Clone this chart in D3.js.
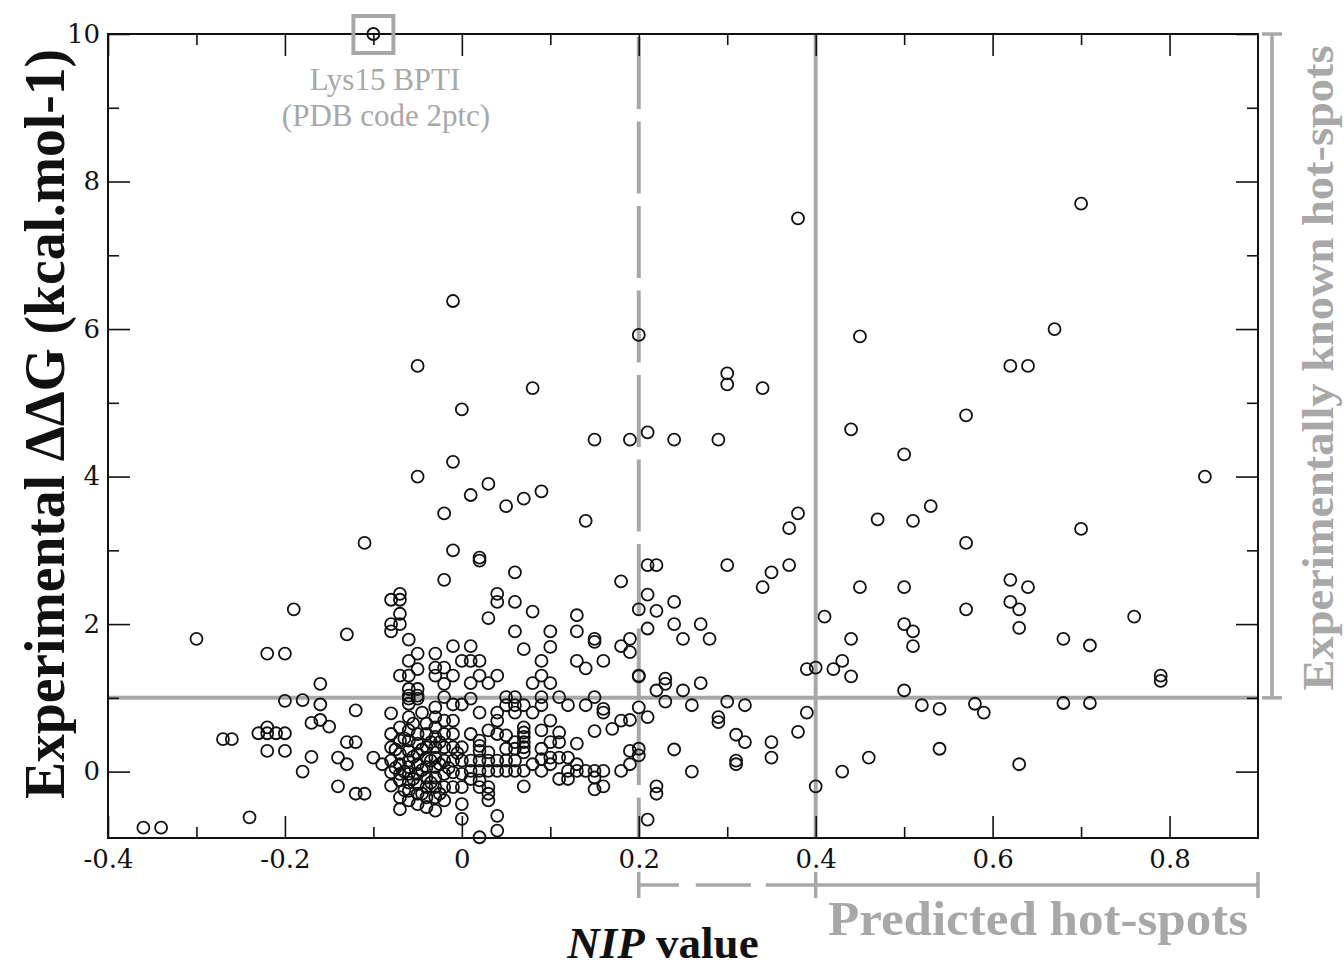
<!DOCTYPE html>
<html><head><meta charset="utf-8">
<script src="https://cdn.jsdelivr.net/npm/d3@7"></script>
<style>body{margin:0;background:#fff;} svg{display:block}</style>
</head><body>
<svg id="chart" width="1344" height="968"></svg>
<script>
// ---------- axis ticks ----------
const xTickValues = [-0.4, -0.2, 0, 0.2, 0.4, 0.6, 0.8];
const xTickLabels = ["-0.4", "-0.2", "0", "0.2", "0.4", "0.6", "0.8"];
const xMinorTicks = [-0.3, -0.1, 0.1, 0.3, 0.5, 0.7];
const yTickValues = [0, 2, 4, 6, 8, 10];
const yTickLabels = ["0", "2", "4", "6", "8", "10"];
const yMinorTicks = [1, 3, 5, 7, 9];

// ---------- thresholds ----------
const ddgHotspot = 1;        // horizontal line
const nipDashed = 0.2;       // dashed vertical
const nipSolid = 0.4;        // solid vertical

// ---------- data: [NIP value, experimental ddG] ----------
const highlighted = [[-0.10, 10.0]];

const leftPoints = [
  [-0.19,2.2],[-0.30,1.8],[-0.22,1.6],[-0.20,1.6],[-0.20,0.96],[-0.18,0.97],
  [-0.22,0.6],[-0.23,0.52],[-0.22,0.52],[-0.21,0.52],[-0.20,0.52],[-0.27,0.44],
  [-0.26,0.44],[-0.22,0.28],[-0.20,0.28],[-0.18,0.0],[-0.24,-0.62],[-0.36,-0.76],
  [-0.34,-0.76],[-0.13,1.86],[-0.16,1.19],[-0.16,0.91],[-0.12,0.83],[-0.16,0.70],
  [-0.17,0.66],[-0.15,0.61],[-0.13,0.40],[-0.12,0.40],[-0.17,0.2],[-0.14,0.19],
  [-0.13,0.10],[-0.10,0.19],[-0.09,0.10],[-0.14,-0.2],[-0.12,-0.30],[-0.11,-0.30],
  [-0.11,3.1]
];

const upperCluster = [
  [-0.02,2.6],[-0.08,2.33],[-0.07,2.41],[-0.07,2.33],[-0.07,2.14],[-0.08,2.0],
  [-0.07,2.0],[-0.08,1.9],[-0.06,1.79],[-0.05,1.6],[-0.03,1.6],[-0.01,1.7],
  [-0.06,1.5],[-0.05,1.39],[-0.03,1.41],[-0.02,1.41],[0.0,1.5],[0.01,1.5],
  [-0.07,1.3],[-0.06,1.3],[-0.03,1.3],[-0.01,1.3],[-0.02,1.19],[-0.06,1.12],
  [-0.05,1.12],[-0.06,1.03],[-0.05,1.03],[-0.06,0.99],[-0.05,0.99],[-0.02,1.01],
  [-0.01,0.91],[0.0,0.91],
  [-0.01,6.38],[-0.05,5.5],[0.08,5.2],[0.0,4.91],[0.15,4.5],[0.19,4.5],[0.21,4.6],
  [-0.01,4.2],[-0.05,4.0],[0.03,3.9],[0.01,3.75],[-0.02,3.5],[0.09,3.8],[0.07,3.7],
  [0.05,3.6],[0.14,3.4],[-0.01,3.0],[0.02,2.9],[0.20,5.92]
];

const denseCluster = [
  [-0.08,0.79],[-0.08,0.51],[-0.08,0.33],[-0.08,0.15],[-0.08,-0.01],[-0.08,-0.19],
  [-0.07,0.6],[-0.07,0.42],[-0.07,0.24],[-0.07,0.10],[-0.07,-0.03],[-0.07,-0.12],[-0.07,-0.35],[-0.07,-0.51],
  [-0.06,0.92],[-0.06,0.74],[-0.06,0.56],[-0.06,0.42],[-0.06,0.28],[-0.06,0.15],[-0.06,0.06],
  [-0.06,-0.03],[-0.06,-0.15],[-0.06,-0.26],[-0.06,-0.39],
  [-0.05,0.51],[-0.05,0.38],[-0.05,0.24],[-0.05,0.10],[-0.05,-0.03],[-0.05,-0.17],[-0.05,-0.30],[-0.05,-0.44],
  [-0.04,0.65],[-0.04,0.51],[-0.04,0.33],[-0.04,0.19],[-0.04,0.06],[-0.04,-0.08],[-0.04,-0.21],[-0.04,-0.35],[-0.04,-0.48],
  [-0.03,0.87],[-0.03,0.74],[-0.03,0.6],[-0.03,0.47],[-0.03,0.33],[-0.03,0.19],[-0.03,0.06],
  [-0.03,-0.08],[-0.03,-0.21],[-0.03,-0.35],[-0.03,-0.53],
  [-0.02,0.69],[-0.02,0.51],[-0.02,0.33],[-0.02,0.15],[-0.02,-0.03],[-0.02,-0.21],[-0.02,-0.39],
  [-0.01,0.69],[-0.01,0.51],[-0.01,0.33],[-0.01,0.15],[-0.01,-0.01],[-0.01,-0.21],
  [0.0,0.33],[0.0,0.15],[0.0,-0.03],[0.0,-0.21],[0.0,-0.44],[0.0,-0.64],
  [-0.065,0.0],[-0.055,0.2],[-0.045,0.02],[-0.035,0.4],[-0.025,0.1],[-0.075,0.3],
  [-0.055,0.65],[-0.045,0.8],[-0.035,-0.15],[-0.065,-0.25],
  [-0.075,0.05],[-0.065,0.45],[-0.055,-0.1],[-0.045,0.3],[-0.035,0.15],[-0.025,0.4],
  [-0.015,0.05],[-0.005,0.25],[-0.045,-0.3],[-0.025,-0.3]
];

const midCluster = [
  [0.02,2.86],[0.06,2.7],[0.18,2.58],[0.04,2.41],[0.04,2.3],[0.06,2.3],[0.08,2.17],
  [0.03,2.08],[0.13,2.12],[0.06,1.9],[0.10,1.9],[0.13,1.9],[0.15,1.8],[0.15,1.76],
  [0.18,1.7],[0.19,1.8],[0.19,1.62],[0.01,1.7],[0.07,1.66],[0.10,1.69],[0.02,1.5],
  [0.09,1.5],[0.13,1.5],[0.14,1.4],[0.16,1.5],[0.01,1.2],[0.02,1.3],[0.03,1.2],
  [0.04,1.3],[0.08,1.2],[0.09,1.3],[0.10,1.2],[0.20,1.3],[0.01,0.99],[0.02,0.8],
  [0.04,0.8],[0.05,1.01],[0.05,0.9],[0.06,1.01],[0.06,0.9],[0.06,0.8],[0.07,0.9],
  [0.04,0.69],[0.08,0.8],[0.09,1.01],[0.09,0.9],[0.10,0.69],[0.11,1.01],[0.12,0.9],
  [0.14,0.9],[0.15,1.01],[0.16,0.85],[0.16,0.8],[0.17,0.58],[0.18,0.69],[0.19,0.7],
  [0.15,0.55],[0.01,0.51],[0.03,0.56],[0.04,0.51],[0.02,0.42],[0.02,0.35],[0.02,0.28],
  [0.03,0.26],[0.05,0.49],[0.06,0.40],[0.06,0.31],[0.07,0.6],[0.07,0.53],[0.07,0.47],
  [0.07,0.4],[0.07,0.33],[0.07,0.26],[0.05,0.31],[0.09,0.56],[0.10,0.4],[0.11,0.53],
  [0.11,0.4],[0.13,0.38],[0.09,0.31],[0.09,0.17],[0.10,0.19],[0.11,0.19],[0.12,0.19],
  [0.08,0.10],[0.09,0.01],[0.10,0.10],[0.12,0.01],[0.13,0.10],[0.13,0.01],[0.14,0.01],
  [0.11,-0.1],[0.12,-0.1],[0.15,0.01],[0.16,0.01],[0.15,-0.08],[0.15,-0.24],[0.16,-0.2],
  [0.18,0.01],[0.19,0.1],[0.19,0.28],
  [0.01,0.01],[0.02,0.01],[0.03,0.01],[0.04,0.01],[0.05,0.01],[0.06,0.01],[0.07,0.01],
  [0.01,-0.1],[0.02,-0.12],[0.02,-0.21],[0.03,-0.21],[0.03,-0.3],[0.03,-0.39],
  [0.07,-0.2],[0.04,-0.6],[0.04,-0.8],[0.02,-0.89],
  [0.01,0.15],[0.02,0.15],[0.03,0.15],[0.04,0.15],[0.05,0.15],[0.06,0.15]
];

const rightPoints = [
  [0.21,2.8],[0.22,2.8],[0.30,2.8],[0.35,2.7],[0.37,2.8],[0.34,2.5],[0.21,2.4],
  [0.24,2.3],[0.20,2.2],[0.22,2.18],[0.21,1.94],[0.24,2.0],[0.27,2.0],[0.25,1.8],
  [0.28,1.8],[0.20,1.29],[0.23,1.26],[0.23,1.19],[0.22,1.1],[0.25,1.1],[0.27,1.2],
  [0.23,0.95],[0.26,0.9],[0.30,0.95],[0.32,0.9],[0.20,0.87],[0.21,0.74],[0.29,0.74],
  [0.29,0.67],[0.31,0.5],[0.32,0.4],[0.35,0.4],[0.35,0.19],[0.38,0.54],[0.39,0.8],
  [0.39,1.39],[0.40,1.41],[0.41,2.1],[0.24,0.3],[0.26,0.0],[0.31,0.15],[0.31,0.1],
  [0.20,0.31],[0.20,0.22],[0.22,-0.2],[0.22,-0.3],[0.21,-0.65],[0.40,-0.2],
  [0.45,2.5],[0.50,2.5],[0.57,2.2],[0.62,2.6],[0.64,2.5],[0.62,2.3],[0.63,2.2],
  [0.63,1.95],[0.44,1.8],[0.50,2.0],[0.51,1.9],[0.51,1.7],[0.42,1.39],[0.43,1.5],
  [0.44,1.29],[0.50,1.1],[0.52,0.9],[0.54,0.85],[0.58,0.92],[0.59,0.8],[0.54,0.31],
  [0.46,0.19],[0.43,0.0],[0.63,0.1],[0.76,2.1],[0.68,1.8],[0.71,1.71],[0.79,1.3],
  [0.79,1.23],[0.68,0.93],[0.71,0.93],
  [0.38,7.5],[0.70,7.7],[0.45,5.9],[0.67,6.0],[0.62,5.5],[0.64,5.5],[0.30,5.4],
  [0.30,5.25],[0.34,5.2],[0.57,4.83],[0.44,4.64],[0.50,4.3],[0.24,4.5],[0.29,4.5],
  [0.84,4.0],[0.53,3.6],[0.47,3.42],[0.51,3.4],[0.57,3.1],[0.70,3.29],[0.38,3.5],[0.37,3.3]
];

// ---------- layout ----------
const svg = d3.select("#chart");
const L = 108, R = 1258, T = 34, B = 838;
const x = d3.scaleLinear().domain([-0.4, 0.9]).range([L, R]);
const y = d3.scaleLinear().domain([-0.9, 10]).range([B, T]);
const gray = "#a8a8a8";
const serif = "'Liberation Serif', 'Times New Roman', serif";
const tickFont = "'DejaVu Serif', serif";

// reference lines
svg.append("line").attr("x1", L).attr("x2", R).attr("y1", y(ddgHotspot)).attr("y2", y(ddgHotspot))
  .attr("stroke", gray).attr("stroke-width", 4);
svg.append("line").attr("x1", x(nipSolid)).attr("x2", x(nipSolid)).attr("y1", T).attr("y2", B)
  .attr("stroke", gray).attr("stroke-width", 4);
svg.append("line").attr("x1", x(nipDashed)).attr("x2", x(nipDashed)).attr("y1", T + 3).attr("y2", B)
  .attr("stroke", gray).attr("stroke-width", 4).attr("stroke-dasharray", "72,12.5");

// axes
function styleAxis(g) {
  g.select(".domain").remove();
  g.selectAll(".tick line").attr("stroke", "#111").attr("stroke-width", 1.6);
  g.selectAll("text").attr("font-family", tickFont).attr("font-size", 26).attr("fill", "#111");
}
const fmtX = (d, i) => xTickLabels[i];
const fmtY = (d, i) => yTickLabels[i];
svg.append("g").attr("transform", `translate(0,${B})`)
  .call(d3.axisBottom(x).tickValues(xTickValues).tickFormat(fmtX).tickSizeInner(-22).tickSizeOuter(0).tickPadding(12)).call(styleAxis);
svg.append("g").attr("transform", `translate(0,${B})`)
  .call(d3.axisBottom(x).tickValues(xMinorTicks).tickFormat("").tickSizeInner(-11).tickSizeOuter(0)).call(styleAxis);
svg.append("g").attr("transform", `translate(0,${T})`)
  .call(d3.axisTop(x).tickValues(xTickValues).tickFormat("").tickSizeInner(-22).tickSizeOuter(0)).call(styleAxis);
svg.append("g").attr("transform", `translate(0,${T})`)
  .call(d3.axisTop(x).tickValues(xMinorTicks).tickFormat("").tickSizeInner(-11).tickSizeOuter(0)).call(styleAxis);
svg.append("g").attr("transform", `translate(${L},0)`)
  .call(d3.axisLeft(y).tickValues(yTickValues).tickFormat(fmtY).tickSizeInner(-22).tickSizeOuter(0).tickPadding(8)).call(styleAxis);
svg.append("g").attr("transform", `translate(${L},0)`)
  .call(d3.axisLeft(y).tickValues(yMinorTicks).tickFormat("").tickSizeInner(-11).tickSizeOuter(0)).call(styleAxis);
svg.append("g").attr("transform", `translate(${R},0)`)
  .call(d3.axisRight(y).tickValues(yTickValues).tickFormat("").tickSizeInner(-22).tickSizeOuter(0)).call(styleAxis);
svg.append("g").attr("transform", `translate(${R},0)`)
  .call(d3.axisRight(y).tickValues(yMinorTicks).tickFormat("").tickSizeInner(-11).tickSizeOuter(0)).call(styleAxis);

// points
const allPoints = [].concat(highlighted, leftPoints, upperCluster, denseCluster, midCluster, rightPoints);
svg.append("g").selectAll("circle").data(allPoints).join("circle")
  .attr("cx", d => x(d[0])).attr("cy", d => y(d[1])).attr("r", 6)
  .attr("fill", "none").attr("stroke", "#111").attr("stroke-width", 1.8);

// frame
svg.append("rect").attr("x", L).attr("y", T).attr("width", R - L).attr("height", B - T)
  .attr("fill", "none").attr("stroke", "#111").attr("stroke-width", 2);

// highlight box
const hx = x(highlighted[0][0]), hy = y(highlighted[0][1]);
svg.append("rect").attr("x", hx - 20).attr("y", hy - 18).attr("width", 40).attr("height", 37)
  .attr("fill", "none").attr("stroke", gray).attr("stroke-width", 4);
svg.append("text").attr("x", 385).attr("y", 90).attr("text-anchor", "middle")
  .attr("font-family", serif).attr("font-size", 31).attr("fill", gray).text("Lys15 BPTI");
svg.append("text").attr("x", 386).attr("y", 126).attr("text-anchor", "middle")
  .attr("font-family", serif).attr("font-size", 31).attr("fill", gray).text("(PDB code 2ptc)");

// right bracket: experimentally known hot-spots
const bx = 1272;
svg.append("line").attr("x1", bx).attr("x2", bx).attr("y1", y(10)).attr("y2", y(ddgHotspot)).attr("stroke", gray).attr("stroke-width", 3.5);
[y(10), y(ddgHotspot)].forEach(v => svg.append("line").attr("x1", bx - 10).attr("x2", bx + 10).attr("y1", v).attr("y2", v).attr("stroke", gray).attr("stroke-width", 3.5));
svg.append("text").attr("transform", `translate(1333,${(y(10) + y(ddgHotspot)) / 2 + 2}) rotate(-90)`)
  .attr("text-anchor", "middle").attr("font-family", serif).attr("font-weight", "bold")
  .attr("font-size", 44).attr("fill", gray).attr("textLength", 645).attr("lengthAdjust", "spacingAndGlyphs")
  .text("Experimentally known hot-spots");

// bottom bracket: predicted hot-spots
const by = 885;
svg.append("line").attr("x1", x(nipDashed)).attr("x2", x(nipSolid)).attr("y1", by).attr("y2", by)
  .attr("stroke", gray).attr("stroke-width", 3.5).attr("stroke-dasharray", "40,17,55,15,60");
svg.append("line").attr("x1", x(nipSolid)).attr("x2", R).attr("y1", by).attr("y2", by)
  .attr("stroke", gray).attr("stroke-width", 3.5);
[x(nipDashed), x(nipSolid), R].forEach(v => svg.append("line").attr("x1", v).attr("x2", v).attr("y1", by - 13).attr("y2", by + 13).attr("stroke", gray).attr("stroke-width", 3.5));
svg.append("text").attr("x", 1248).attr("y", 935).attr("text-anchor", "end")
  .attr("font-family", serif).attr("font-weight", "bold").attr("font-size", 48).attr("fill", gray)
  .attr("textLength", 420).attr("lengthAdjust", "spacingAndGlyphs").text("Predicted hot-spots");

// axis titles
const xt = svg.append("text").attr("x", 663).attr("y", 958).attr("text-anchor", "middle")
  .attr("font-family", serif).attr("font-weight", "bold").attr("font-size", 45).attr("fill", "#111");
xt.append("tspan").attr("font-style", "italic").text("NIP");
xt.append("tspan").text(" value");

svg.append("text").attr("transform", `translate(64,${424}) rotate(-90)`)
  .attr("text-anchor", "middle").attr("font-family", serif).attr("font-weight", "bold")
  .attr("font-size", 57).attr("fill", "#111").attr("textLength", 750).attr("lengthAdjust", "spacingAndGlyphs")
  .text("Experimental ΔΔG (kcal.mol-1)");
</script>
</body></html>
